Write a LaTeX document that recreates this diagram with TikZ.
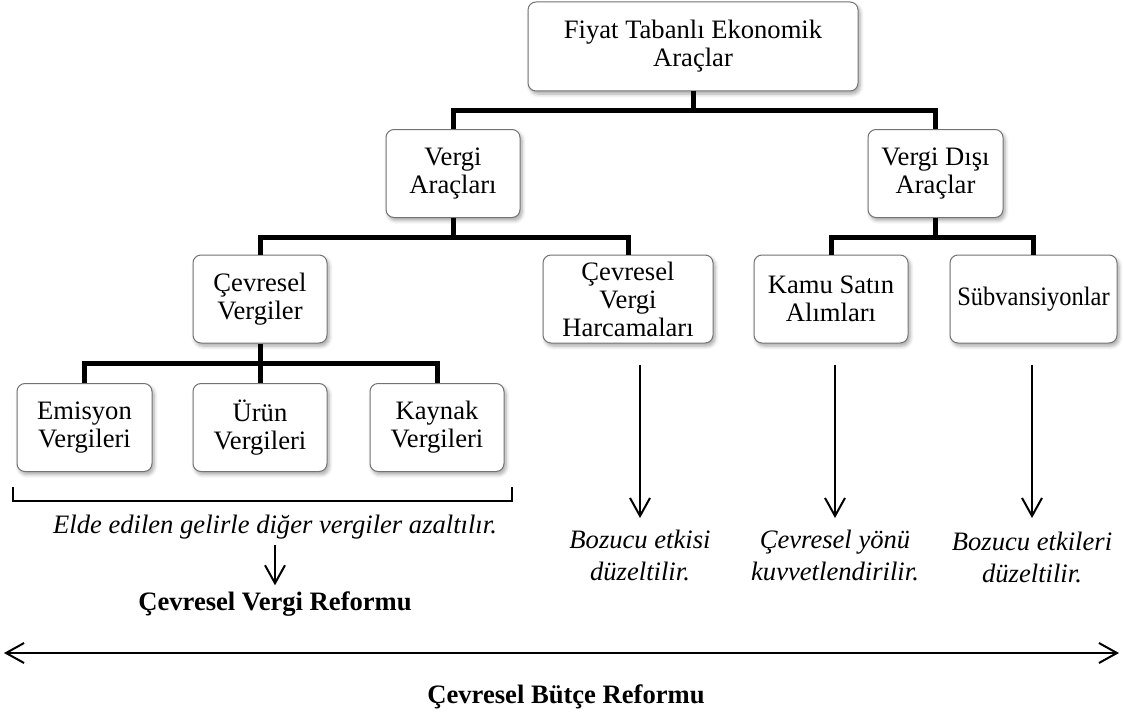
\documentclass[tikz,border=0pt]{standalone}
\usepackage{fontspec}
\setmainfont{Liberation Serif}
\usetikzlibrary{arrows.meta,shadows.blur}

\begin{document}
\begin{tikzpicture}[x=0.5pt,y=-0.5pt,
	kutu/.style={draw=black!55, line width=0.5pt, fill=white, rounded corners=4pt,
		align=center, inner sep=0pt, minimum height=44pt,
		blur shadow={shadow xshift=1pt, shadow yshift=-1.5pt, shadow blur steps=5, shadow opacity=35},
		font=\fontsize{13.3}{14}\selectfont},
	bag/.style={line width=2.5pt},
	ok/.style={line width=1pt, -{Straight Barb[length=9pt,width=10pt,line width=1pt]}},
	yazi/.style={align=center, inner sep=0pt, font=\fontsize{13.3}{16}\selectfont\itshape},
	baslik/.style={inner sep=0pt, font=\fontsize{13.3}{14}\selectfont\bfseries}]

	\useasboundingbox (0,0) rectangle (1123,717);

	%--- Kutular ---
	\node[kutu, minimum width=165pt, minimum height=44.5pt] (fiyat) at (693,46.5) {Fiyat Tabanlı Ekonomik\\Araçlar};
	\node[kutu, minimum width=67pt] (vergi) at (453,173.5) {Vergi\\Araçları};
	\node[kutu, minimum width=67.5pt] (disi) at (935.5,173.5) {Vergi Dışı\\Araçlar};

	\node[kutu, minimum width=67pt] (cevre) at (260,299) {Çevresel\\Vergiler};
	\node[kutu, minimum width=85pt] (harcama) at (628,299) {Çevresel\\Vergi\\Harcamaları};
	\node[kutu, minimum width=77pt] (kamu) at (831,299) {Kamu Satın\\Alımları};
	\node[kutu, minimum width=83.5pt] (subv) at (1033.5,299) {\scalebox{0.92}[1]{Sübvansiyonlar}};

	\node[kutu, minimum width=67.5pt] (emisyon) at (84.5,427.5) {Emisyon\\Vergileri};
	\node[kutu, minimum width=67pt] (urun) at (260,427.5) {Ürün\\Vergileri};
	\node[kutu, minimum width=67pt] (kaynak) at (437,427.5) {Kaynak\\Vergileri};

	%--- Bağlantılar ---
	\coordinate (k1) at (693,111);
	\draw[bag] (fiyat.south) -- (k1);
	\draw[bag] (vergi.north) |- (k1) -| (disi.north);

	\coordinate (k2) at (453,237);
	\draw[bag] (vergi.south) -- (k2);
	\draw[bag] (cevre.north) |- (k2) -| (harcama.north);

	\coordinate (k3) at (935.5,237);
	\draw[bag] (disi.south) -- (k3);
	\draw[bag] (kamu.north) |- (k3) -| (subv.north);

	\coordinate (k4) at (260,363);
	\draw[bag] (cevre.south) -- (urun.north);
	\draw[bag] (emisyon.north) |- (k4) -| (kaynak.north);

	%--- Parantez ---
	\draw[line width=0.8pt] (13,487) |- (512,501) -- (512,487);

	%--- Açıklamalar ---
	\node[yazi] (elde) at (275,527) {Elde edilen gelirle diğer vergiler azaltılır.};
	\node[baslik] (cvr) at (275,604) {Çevresel Vergi Reformu};
	\draw[ok, shorten <=3pt, shorten >=3pt] (elde.south) -- (cvr.north);

	\node[yazi, anchor=north] (etki1) at (640,530) {Bozucu etkisi\\düzeltilir.};
	\node[yazi, anchor=north] (etki2) at (835,530) {Çevresel yönü\\kuvvetlendirilir.};
	\node[yazi, anchor=north] (etki3) at (1032,532) {Bozucu etkileri\\düzeltilir.};
	\draw[ok, shorten <=10.5pt, shorten >=6pt] (harcama.south -| etki1.north) -- (etki1.north);
	\draw[ok, shorten <=10.5pt, shorten >=6pt] (kamu.south -| etki2.north) -- (etki2.north);
	\draw[ok, shorten <=10.5pt, shorten >=7pt] (subv.south -| etki3.north) -- (etki3.north);

	%--- Bütçe reformu ---
	\coordinate (sol) at (4,653);
	\coordinate (sag) at (1119,653);
	\draw[line width=1pt, {Straight Barb[length=9pt,width=10pt,line width=1pt]}-{Straight Barb[length=9pt,width=10pt,line width=1pt]}] (sol) -- (sag);
	\node[baslik] (butce) at (566,697) {Çevresel Bütçe Reformu};

\end{tikzpicture}
\end{document}
